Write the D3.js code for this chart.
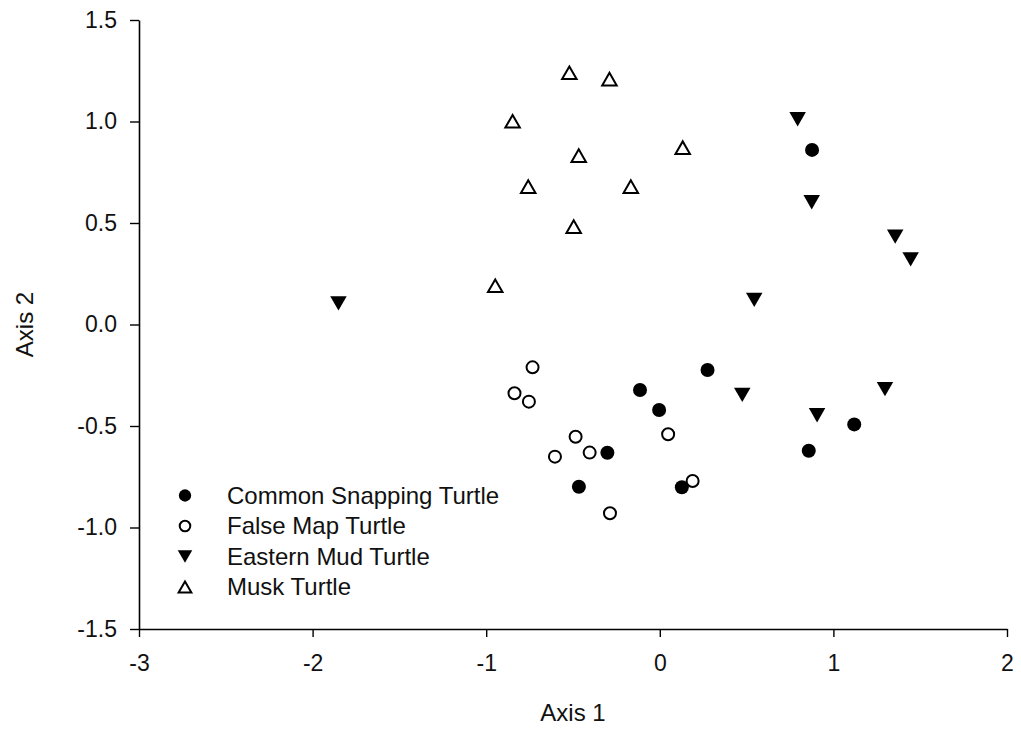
<!DOCTYPE html>
<html>
<head>
<meta charset="utf-8">
<script src="https://cdn.jsdelivr.net/npm/d3@7"></script>
<style>
    body { margin: 0; background: #fff; }
    svg { font-family: "Liberation Sans", Arial, sans-serif; }
</style>
</head>
<body>
<script>
var width = 1021,
    height = 733;

// ordination scores
var snappingX = [0.877, 0.275, -0.114, -0.004, -0.302, -0.466, 0.127, 1.120, 0.858];
var snappingY = [0.860, -0.224, -0.323, -0.421, -0.632, -0.799, -0.802, -0.492, -0.622];

var mapX = [-0.733, -0.837, -0.754, -0.485, -0.404, -0.604, 0.048, 0.189, -0.287];
var mapY = [-0.211, -0.339, -0.380, -0.553, -0.631, -0.651, -0.541, -0.771, -0.930];

var mudX = [0.794, 0.875, 1.356, 1.445, 0.544, -1.851, 0.475, 0.906, 1.297];
var mudY = [1.011, 0.602, 0.433, 0.321, 0.121, 0.104, -0.347, -0.447, -0.318];

var muskX = [-0.521, -0.290, -0.848, -0.467, 0.132, -0.758, -0.167, -0.496, -0.948];
var muskY = [1.240, 1.209, 1.001, 0.832, 0.871, 0.679, 0.679, 0.482, 0.191];

var xTicks = [-3, -2, -1, 0, 1, 2];
var yTicks = [-1.5, -1.0, -0.5, 0.0, 0.5, 1.0, 1.5];

var series = [
    { name: "Common Snapping Turtle", xs: snappingX, ys: snappingY, shape: "circle", filled: true },
    { name: "False Map Turtle", xs: mapX, ys: mapY, shape: "circle", filled: false },
    { name: "Eastern Mud Turtle", xs: mudX, ys: mudY, shape: "down", filled: true },
    { name: "Musk Turtle", xs: muskX, ys: muskY, shape: "up", filled: false }
];

var svg = d3.select("body").append("svg").attr("width", width).attr("height", height);

var x = d3.scaleLinear().domain([-3, 2]).range([139, 1007]);
var y = d3.scaleLinear().domain([-1.5, 1.5]).range([629, 20]);

var fontSize = 23;

// axes
var xAxis = svg.append("g")
    .attr("transform", "translate(0," + y(-1.5) + ")")
    .call(d3.axisBottom(x).tickValues(xTicks).tickFormat(function (d) { return String(d); })
        .tickSize(8).tickSizeOuter(0).tickPadding(18));

var yAxis = svg.append("g")
    .attr("transform", "translate(" + x(-3) + ",0)")
    .call(d3.axisLeft(y).tickValues(yTicks).tickFormat(function (d) { return d.toFixed(1); })
        .tickSize(9).tickSizeOuter(0).tickPadding(13));

[xAxis, yAxis].forEach(function (ax) {
    ax.select(".domain").attr("stroke", "#000").attr("stroke-width", 1.6);
    ax.selectAll(".tick line").attr("stroke", "#000").attr("stroke-width", 1.4);
    ax.selectAll(".tick text")
        .attr("fill", "#111")
        .style("font-size", fontSize + "px")
        .style("font-family", '"Liberation Sans", Arial, sans-serif');
});

// axis titles
svg.append("text")
    .attr("x", (x(-3) + x(2)) / 2)
    .attr("y", 721)
    .attr("text-anchor", "middle")
    .style("font-size", "24px")
    .attr("fill", "#111")
    .text("Axis 1");

svg.append("text")
    .attr("transform", "translate(33," + (y(1.5) + y(-1.5)) / 2 + ") rotate(-90)")
    .attr("text-anchor", "middle")
    .style("font-size", "24px")
    .attr("fill", "#111")
    .text("Axis 2");

function markerPath(shape, size) {
    var w = size, h = size * 0.87;
    if (shape === "down") {
        return "M" + (-w / 2) + "," + (-h / 2) + "L" + (w / 2) + "," + (-h / 2) + "L0," + (h / 2) + "Z";
    }
    return "M" + (-w / 2) + "," + (h / 2) + "L" + (w / 2) + "," + (h / 2) + "L0," + (-h / 2) + "Z";
}

function drawMarker(g, s, scale) {
    if (s.shape === "circle") {
        g.append("circle")
            .attr("r", (s.filled ? 7 : 6) * scale)
            .attr("fill", s.filled ? "#000" : "#fff")
            .attr("stroke", "#000")
            .attr("stroke-width", s.filled ? 0 : 2);
    } else {
        g.append("path")
            .attr("d", markerPath(s.shape, (s.filled ? 16.5 : 14.5) * scale))
            .attr("fill", s.filled ? "#000" : "#fff")
            .attr("stroke", "#000")
            .attr("stroke-width", s.filled ? 0 : 2)
            .attr("stroke-linejoin", "miter");
    }
}

// points
var plot = svg.append("g");
series.forEach(function (s) {
    var pts = s.xs.map(function (v, i) { return { x: v, y: s.ys[i] }; });
    plot.append("g")
        .selectAll("g")
        .data(pts)
        .enter()
        .append("g")
        .attr("transform", function (d) { return "translate(" + x(d.x) + "," + y(d.y) + ")"; })
        .each(function () { drawMarker(d3.select(this), s, 1); });
});

// legend
var legend = svg.append("g");
series.forEach(function (s, i) {
    var row = legend.append("g").attr("transform", "translate(185," + (495.5 + i * 30.5) + ")");
    drawMarker(row.append("g"), s, 0.88);
    row.append("text")
        .attr("x", 42)
        .attr("dy", "0.35em")
        .style("font-size", "24px")
        .attr("fill", "#111")
        .text(s.name);
});
</script>
</body>
</html>
